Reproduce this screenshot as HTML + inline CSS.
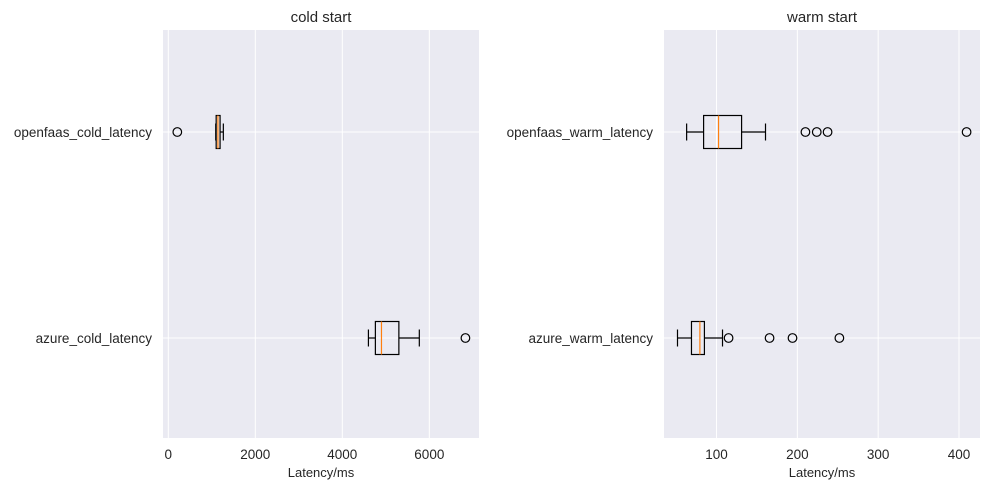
<!DOCTYPE html>
<html><head><meta charset="utf-8"><style>
body{margin:0;background:#fff;}
svg{display:block;font-family:"Liberation Sans",sans-serif;}
</style></head><body>
<svg id="chart" width="989" height="489"></svg>
<script>
const categories = ["openfaas", "azure"];
const coldTicks = [0, 2000, 4000, 6000];
const warmTicks = [100, 200, 300, 400];
// [whiskerLow, q1, median, q3, whiskerHigh]
const coldStats = [[1090, 1100, 1140, 1190, 1265], [4600, 4760, 4900, 5300, 5770]];
const coldOutliers = [[207], [6830]];
const warmStats = [[63, 84, 102.5, 131, 160.6], [51.7, 69, 79.4, 85, 107.4]];
const warmOutliers = [[210, 224, 237.4, 409.4], [114.9, 165.6, 194, 252]];
const coldLabels = ["openfaas_cold_latency", "azure_cold_latency"];
const warmLabels = ["openfaas_warm_latency", "azure_warm_latency"];

const svg = document.getElementById('chart');
const NS = 'http://www.w3.org/2000/svg';
function mk(tag, attrs, parent) {
  const e = document.createElementNS(NS, tag);
  for (const k in attrs) e.setAttribute(k, attrs[k]);
  (parent || svg).appendChild(e);
  return e;
}
const plotTop = 30, plotBottom = 438;
const yPos = [132, 338];

function panel(name, x0, x1, dmin, dmax, ticks, stats, outliers, labels, title) {
  const g = mk('g', {});
  
  
  const sx = v => x0 + (v - dmin) / (dmax - dmin) * (x1 - x0);
  const bg = mk('rect', {x: x0, y: plotTop, width: x1 - x0, height: plotBottom - plotTop, fill: '#eaeaf2'}, g);
  
  
  ticks.forEach(t => {
    const x = sx(t);
    const gl = mk('line', {x1: x, x2: x, y1: plotTop, y2: plotBottom, stroke: '#fff', 'stroke-width': 1}, g);
    
    
    const tl = mk('text', {x: x, y: 459, 'text-anchor': 'middle', 'font-size': 13.5, fill: '#262626'}, g);
    tl.textContent = t;
    
    
  });
  yPos.forEach((y, i) => {
    const gl = mk('line', {x1: x0, x2: x1, y1: y, y2: y, stroke: '#fff', 'stroke-width': 1}, g);
    
    
    const tl = mk('text', {x: x0 - 11, y: y + 5, 'text-anchor': 'end', 'font-size': 13.5, fill: '#262626'}, g);
    tl.textContent = labels[i];
    
    
  });
  categories.forEach((c, i) => {
    const s = stats[i], y = yPos[i];
    const bg2 = mk('g', {}, g);
    
    
    const st = {stroke: '#000', 'stroke-width': 1.2, fill: 'none'};
    mk('line', Object.assign({x1: sx(s[0]), x2: sx(s[1]), y1: y, y2: y}, st), bg2);
    mk('line', Object.assign({x1: sx(s[3]), x2: sx(s[4]), y1: y, y2: y}, st), bg2);
    mk('line', Object.assign({x1: sx(s[0]), x2: sx(s[0]), y1: y - 8.5, y2: y + 8.5}, st), bg2);
    mk('line', Object.assign({x1: sx(s[4]), x2: sx(s[4]), y1: y - 8.5, y2: y + 8.5}, st), bg2);
    mk('rect', Object.assign({x: sx(s[1]), y: y - 16.5, width: Math.max(sx(s[3]) - sx(s[1]), 1), height: 33}, st), bg2);
    mk('line', {x1: sx(s[2]), x2: sx(s[2]), y1: y - 16.5, y2: y + 16.5, stroke: '#ff7f0e', 'stroke-width': 1.2}, bg2);
    outliers[i].forEach(v => {
      const o = mk('circle', {cx: sx(v), cy: y, r: 4.3, fill: 'none', stroke: '#000', 'stroke-width': 1.2}, g);
      
      
    });
  });
  const t = mk('text', {x: (x0 + x1) / 2, y: 22, 'text-anchor': 'middle', 'font-size': 15, fill: '#262626'}, g);
  t.textContent = title;
  
  
  const xl = mk('text', {x: (x0 + x1) / 2, y: 477, 'text-anchor': 'middle', 'font-size': 13, fill: '#262626'}, g);
  xl.textContent = 'Latency/ms';
  
  
}
panel('cold-start', 163, 479, -122, 7142, coldTicks, coldStats, coldOutliers, coldLabels, 'cold start');
panel('warm-start', 664, 980, 35, 426, warmTicks, warmStats, warmOutliers, warmLabels, 'warm start');
</script>
</body></html>
